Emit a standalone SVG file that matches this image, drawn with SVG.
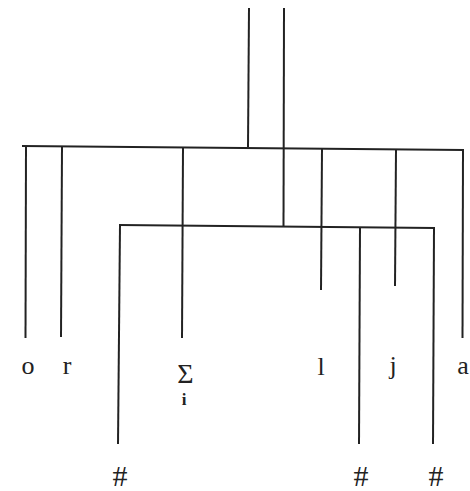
<svg xmlns="http://www.w3.org/2000/svg" width="470" height="491" viewBox="0 0 470 491">
<style>
.ln{stroke:#222;stroke-width:2;fill:none;stroke-linecap:butt}
.t{font-family:"Liberation Serif","DejaVu Serif",serif;fill:#222;text-anchor:middle}
</style>
<rect width="470" height="491" fill="#fff"/>
<g id="connectors">
<line class="ln" x1="249" y1="8" x2="248" y2="147"/>
<line class="ln" x1="284" y1="8" x2="283.5" y2="226"/>
<line class="ln" x1="22" y1="146" x2="464" y2="150"/>
<line class="ln" x1="26" y1="146" x2="25.5" y2="338"/>
<line class="ln" x1="62" y1="147" x2="61" y2="337"/>
<line class="ln" x1="183" y1="148" x2="182" y2="338"/>
<line class="ln" x1="322" y1="149" x2="321" y2="290"/>
<line class="ln" x1="396" y1="150" x2="395" y2="286"/>
<line class="ln" x1="463" y1="150" x2="462.5" y2="338"/>
<line class="ln" x1="119" y1="225" x2="435" y2="228"/>
<line class="ln" x1="120" y1="225" x2="118" y2="444"/>
<line class="ln" x1="360" y1="227" x2="359" y2="444"/>
<line class="ln" x1="434" y1="228" x2="433" y2="444"/>
</g>
<g id="o"><text class="t" x="28" y="374" font-size="26">o</text></g>
<g id="r"><text class="t" x="67" y="374" font-size="26">r</text></g>
<g id="sigma"><text class="t" x="185.5" y="383" font-size="28">Σ</text><text class="t" x="184" y="405" font-size="17" font-weight="bold">i</text></g>
<g id="l"><text class="t" x="321" y="375" font-size="26">l</text></g>
<g id="j"><text class="t" x="393" y="374" font-size="26">j</text></g>
<g id="a"><text class="t" x="463" y="374" font-size="26">a</text></g>
<g id="h1"><text class="t" x="120" y="486" font-size="30">#</text></g>
<g id="h2"><text class="t" x="361" y="486" font-size="30">#</text></g>
<g id="h3"><text class="t" x="436" y="486" font-size="30">#</text></g>
</svg>
